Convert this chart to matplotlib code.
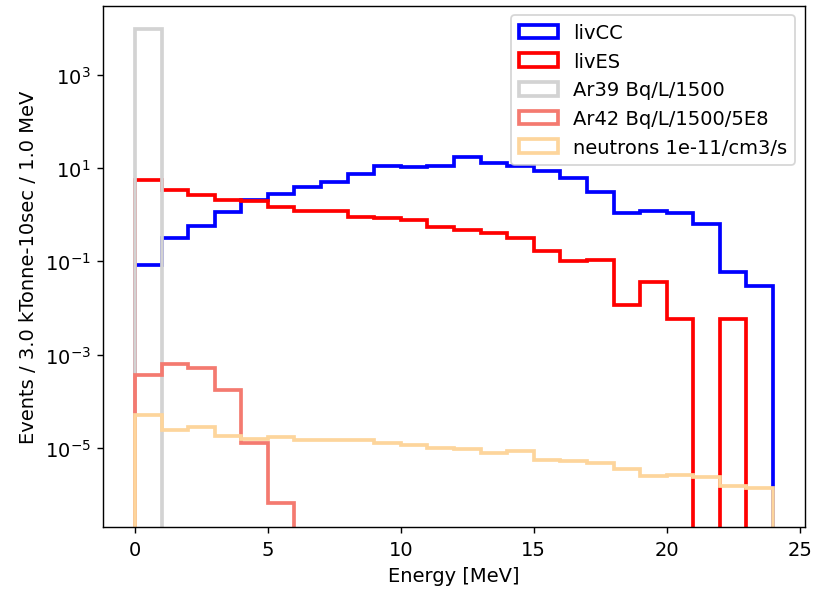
import numpy as np
import matplotlib
matplotlib.use("Agg")
from matplotlib import pyplot as plt
from matplotlib.ticker import NullLocator

# 1 MeV bins from 0 to 24 MeV
edges = np.arange(0, 25, 1.0)

livCC = [0.085, 0.31, 0.58, 1.13, 2.1, 2.8, 3.9, 5.0, 7.4, 11.2, 10.5, 11.2,
         17.5, 12.9, 11.2, 8.5, 6.1, 3.0, 1.09, 1.18, 1.09, 0.645, 0.058, 0.030]
livES = [5.5, 3.3, 2.7, 2.1, 1.94, 1.47, 1.18, 1.18, 0.90, 0.84, 0.785, 0.55,
         0.48, 0.41, 0.32, 0.165, 0.10, 0.109, 0.0119, 0.036, 0.0057, 0.0, 0.0057, 0.0]
ar39 = [9.5e3] + [0.0] * 23
ar42 = [3.6e-4, 6.2e-4, 5.2e-4, 1.8e-4, 1.3e-5, 6.7e-7] + [0.0] * 18
neutrons = [5.2e-5, 2.4e-5, 2.85e-5, 1.8e-5, 1.6e-5, 1.75e-5, 1.48e-5, 1.48e-5,
            1.48e-5, 1.3e-5, 1.19e-5, 1.03e-5, 9.7e-6, 7.9e-6, 8.7e-6, 5.6e-6,
            5.3e-6, 4.8e-6, 3.5e-6, 2.5e-6, 2.6e-6, 2.45e-6, 1.58e-6, 1.43e-6]

series = [
    (livCC, "livCC", "#0000ff"),
    (livES, "livES", "#ff0000"),
    (ar39, "Ar39 Bq/L/1500", "#d3d3d3"),
    (ar42, "Ar42 Bq/L/1500/5E8", "#f47a70"),
    (neutrons, "neutrons 1e-11/cm3/s", "#fdd59c"),
]

centers = 0.5 * (edges[:-1] + edges[1:])

plt.rcParams["font.size"] = 11

fig, ax = plt.subplots(figsize=(6.4, 4.664), dpi=127.34)
fig.subplots_adjust(left=0.1264, right=0.9877, top=0.989, bottom=0.1103)

for vals, label, color in series:
    ax.hist(centers, bins=edges, weights=vals, histtype="step", log=True,
            color=color, linewidth=2.1, label=label)

ax.set_xlim(-1.2, 25.2)
ax.set_ylim(2e-7, 3e4)
ax.set_xticks([0, 5, 10, 15, 20, 25])
ax.set_yticks([1e-5, 1e-3, 1e-1, 1e1, 1e3])
ax.yaxis.set_minor_locator(NullLocator())

ax.set_xlabel("Energy [MeV]")
ax.set_ylabel("Events / 3.0 kTonne-10sec / 1.0 MeV")
ax.legend(loc="upper right")

plt.savefig("out.png", dpi=127.34)
